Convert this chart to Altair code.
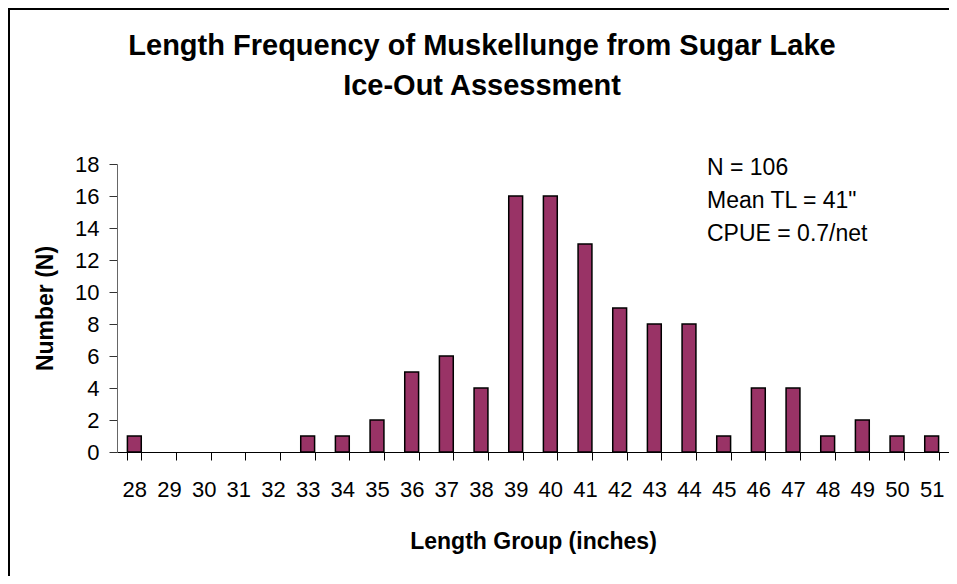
import altair as alt
import pandas as pd

lengths = [str(v) for v in range(28, 52)]
counts = [1, 0, 0, 0, 0, 1, 1, 2, 5, 6, 4, 16, 16, 13, 9, 8, 8, 1, 4, 4, 1, 2, 1, 1]
y_ticks = [0, 2, 4, 6, 8, 10, 12, 14, 16, 18]
title_lines = ["Length Frequency of Muskellunge from Sugar Lake", "Ice-Out Assessment"]
note_lines = ["N = 106", "Mean TL = 41\"", "CPUE = 0.7/net"]

df = pd.DataFrame({"len": lengths, "n": counts})
FONT = "Liberation Sans"

bars = alt.Chart(df).transform_filter("datum.n > 0").mark_bar(
    color="#993366", stroke="#000000", strokeWidth=1.5
).encode(
    x=alt.X("len:N", sort=lengths,
            scale=alt.Scale(domain=lengths, paddingInner=0.6, paddingOuter=0.3),
            axis=alt.Axis(title="Length Group (inches)", labelAngle=0, tickBand="extent",
                          tickSize=8, labelPadding=19, titlePadding=30,
                          domainColor="#000000", tickColor="#000000",
                          labelFontSize=22, labelColor="#000000", labelFont=FONT,
                          titleFontSize=23, titleFont=FONT, titleFontWeight="bold",
                          titleColor="#000000")),
    y=alt.Y("n:Q", scale=alt.Scale(domain=[0, 18], nice=False),
            axis=alt.Axis(title="Number (N)", values=y_ticks, grid=False, tickSize=8,
                          labelPadding=10, titlePadding=17,
                          domainColor="#666666", tickColor="#333333",
                          labelFontSize=22, labelColor="#000000", labelFont=FONT,
                          titleFontSize=23, titleFont=FONT, titleFontWeight="bold",
                          titleColor="#000000")),
)

title = alt.Chart(pd.DataFrame({"a": [0]})).mark_text(
    text=title_lines, align="center", baseline="alphabetic", fontSize=29, font=FONT,
    fontWeight="bold", lineHeight=40, color="#000000"
).encode(x=alt.value(365), y=alt.value(-109))

note = alt.Chart(pd.DataFrame({"a": [0]})).mark_text(
    text=note_lines, align="left", baseline="alphabetic", fontSize=23, font=FONT,
    lineHeight=33, color="#000000"
).encode(x=alt.value(590), y=alt.value(11))

frame = alt.Chart(pd.DataFrame({"a": [0]})).mark_rect(
    fill="transparent", stroke="#000000", strokeWidth=2, clip=False
).encode(x=alt.value(-108), x2=alt.value(1200), y=alt.value(-155), y2=alt.value(900))

chart = alt.layer(frame, bars, note, title).properties(
    width=832, height=288,
    autosize=alt.AutoSizeParams(type="none"),
    padding={"left": 109, "top": 156, "right": 0, "bottom": 124},
).configure_view(stroke=None)

chart.save("out.html", embed_options={"renderer": "svg", "actions": False})
